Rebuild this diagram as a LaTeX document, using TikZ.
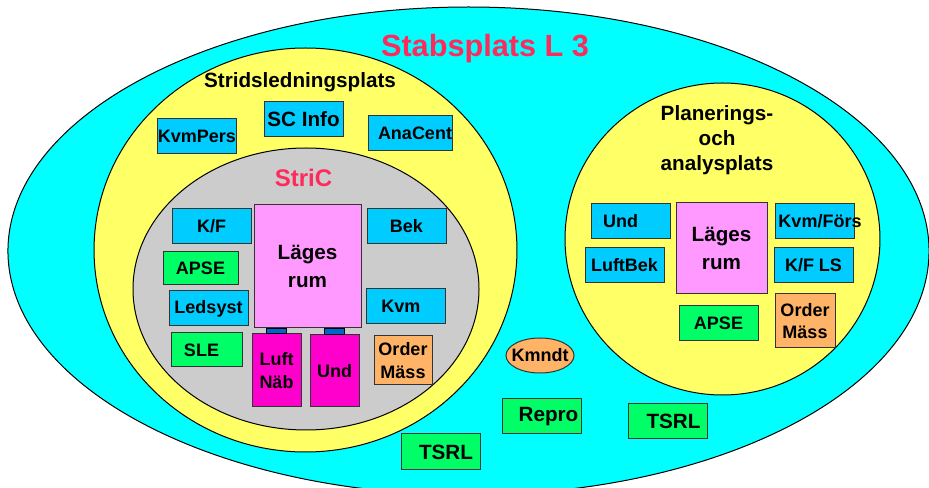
\documentclass[tikz,border=0pt]{standalone}
\usepackage{fontspec}
\setmainfont{Liberation Sans}
\usepackage{tikz}
\usetikzlibrary{shapes.geometric}
\definecolor{stabcyan}{HTML}{00FFFF}
\definecolor{platsyellow}{HTML}{FFFF66}
\definecolor{stricgray}{HTML}{CCCCCC}
\definecolor{boxblue}{HTML}{00CCFF}
\definecolor{boxgreen}{HTML}{00FF66}
\definecolor{boxorange}{HTML}{FFB366}
\definecolor{boxpink}{HTML}{FF99FF}
\definecolor{boxmagenta}{HTML}{FF00CC}
\definecolor{tabblue}{HTML}{0066CC}
\definecolor{titlered}{HTML}{FF2A5C}

\begin{document}
\begin{tikzpicture}[x=0.75pt,y=-0.75pt,
	ring/.style={draw=black,line width=0.75pt},
	box/.style={draw=black!80,line width=0.75pt,inner sep=0pt,font=\fontsize{13.5}{17}\selectfont\bfseries,minimum width=59.25pt,minimum height=26.25pt},
	bluebox/.style={box,fill=boxblue},
	greenbox/.style={box,fill=boxgreen},
	orangebox/.style={box,fill=boxorange,align=center},
	pinkbox/.style={box,fill=boxpink,align=center,font=\fontsize{15.5}{20.5}\selectfont\bfseries},
	magbox/.style={box,fill=boxmagenta,align=center},
	big/.style={font=\fontsize{15.5}{19}\selectfont\bfseries}]
\useasboundingbox (0,0) rectangle (929,488);
\draw[ring,fill=stabcyan] (468.5,251) ellipse [x radius=345.4pt,y radius=183pt];
\draw[ring,fill=platsyellow] (305.5,250) ellipse [x radius=158.6pt,y radius=151.5pt];
\draw[ring,fill=stricgray] (306,289) ellipse [x radius=129.75pt,y radius=105.75pt];
\draw[ring,fill=platsyellow] (722.5,239) ellipse [x radius=118.1pt,y radius=117pt];

\node (stab) [anchor=base,text=titlered,font=\fontsize{23}{27}\selectfont\bfseries] at (485,56.5) {Stabsplats L 3};
\node (strid) [anchor=base,big] at (300,88) {Stridsledningsplats};
\node (stric) [anchor=base,text=titlered,font=\fontsize{18}{21}\selectfont\bfseries] at (303.5,187) {StriC};
\node (plan) [big,align=center] at (717,140) {Planerings-\\och\\analysplats};

\node (scinfo) [bluebox,big] at (303.5,119.5) {SC Info};
\node (kvmpers) [bluebox] at (197,136.5) {KvmPers};
\node (anacent) [bluebox] at (410,133.5) {\hspace*{7.5pt}AnaCent};

\node (kf) [bluebox] at (211.5,226.5) {K/F};
\node (lagesL) [pinkbox,minimum width=80.25pt,minimum height=92.25pt] at (307.5,266.5) {Läges\\rum};
\node (bek) [bluebox] at (406.5,226.5) {Bek};
\node (apseL) [greenbox,minimum width=56.25pt,minimum height=24.75pt] at (200.5,268.5) {APSE};
\node (ledsyst) [bluebox] at (208.5,308.5) {Ledsyst};
\node (kvm) [bluebox] at (406,306.5) {\hspace*{-7.5pt}Kvm};
\node (sle) [greenbox,minimum width=53.25pt,minimum height=25.5pt] at (206.5,350) {\hspace*{-7.5pt}SLE};
\node (luftnab) [magbox,minimum width=36.75pt,minimum height=54.75pt] at (276.5,370.5) {Luft\\Näb};
\node (undL) [magbox,minimum width=36.75pt,minimum height=54pt] at (334.5,371) {Und};
\node (orderL) [orangebox,minimum width=43.5pt,minimum height=36.75pt] at (403,360.5) {Order\\Mäss};
\foreach \n in {luftnab,undL}
	\draw[draw=black,line width=0.5pt,fill=tabblue] ([xshift=-7.5pt]\n.north) rectangle ([xshift=7.5pt]\n.north |- lagesL.south);

\node (undR) [bluebox] at (630.5,221.5) {\hspace*{-15pt}Und};
\node (luftbek) [bluebox] at (624.5,265.5) {LuftBek};
\node (lagesR) [pinkbox,minimum width=68.25pt,minimum height=68.25pt] at (721.5,248.5) {Läges\\rum};
\node (kvmfors) [bluebox] at (814.5,221.5) {\makebox[0pt]{\hspace*{8.25pt}Kvm/Förs}};
\node (kfls) [bluebox] at (813.5,265) {K/F LS};
\node (apseR) [greenbox] at (718.5,323.5) {APSE};
\node (orderR) [orangebox,minimum width=45pt,minimum height=40.5pt] at (805,321) {Order\\Mäss};

\node (kmndt) [box,ellipse,fill=boxorange,minimum width=51pt,minimum height=26.25pt] at (540,355.5) {\makebox[0pt]{Kmndt}};
\node (repro) [greenbox,big] at (541.5,416.5) {\hspace*{10.5pt}Repro};
\node (tsrlR) [greenbox,big] at (667.5,421.5) {\hspace*{9pt}TSRL};
\node (tsrlL) [greenbox,big,minimum height=27pt] at (440.5,452) {\hspace*{8.25pt}TSRL};
\end{tikzpicture}
\end{document}
